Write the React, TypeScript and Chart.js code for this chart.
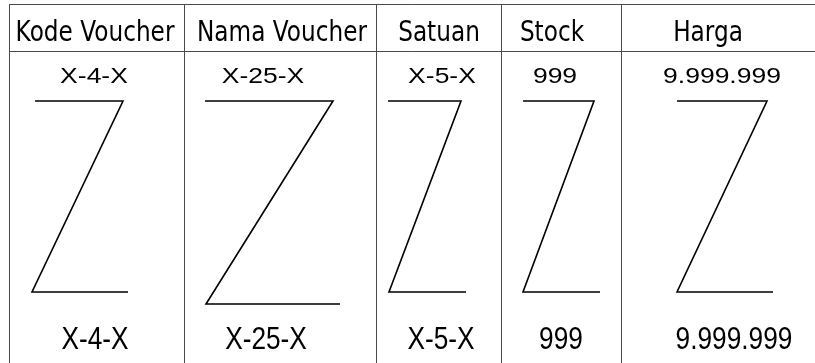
import React, { useEffect, useRef } from "react";
import { Chart, registerables } from "chart.js";

Chart.register(...registerables);

// ---- data ----
const columnLabels = ["Kode Voucher", "Nama Voucher", "Satuan", "Stock", "Harga"];
const firstRowValues = ["X-4-X", "X-25-X", "X-5-X", "999", "9.999.999"];
const lastRowValues = ["X-4-X", "X-25-X", "X-5-X", "999", "9.999.999"];

// table frame (in chart units)
const columnEdges = [9.5, 184.5, 376.5, 501.5, 621.5];
const tableTop = 4.5;
const headerBottom = 51.5;
const tableRight = 815;
const tableBottom = 363;

// Z placeholder marks per column
const zTopY = [101, 101, 101, 101, 101];
const zBottomY = [292, 304, 292, 292, 292];
const zTopLeftX = [35, 205, 388, 523, 677];
const zTopRightX = [123, 333, 461, 594, 767];
const zBottomLeftX = [32, 206, 389, 523, 677];
const zBottomRightX = [128, 340, 466, 600, 773];

// text anchors (centers, chart units)
const headerCenters = [95, 282, 439, 552, 708];
const firstRowCenters = [94, 263, 442, 555, 722];
const lastRowCenters = [95, 266, 441, 561, 734];
const headerBaseline = 41;
const firstRowBaseline = 83;
const lastRowBaseline = 349;

const LINE = "#4a4a4a";

function drawScaled(
  ctx: CanvasRenderingContext2D,
  text: string,
  x: number,
  y: number,
  font: string,
  sx: number,
  sy: number
) {
  ctx.save();
  ctx.translate(x, y);
  ctx.scale(sx, sy);
  ctx.font = font;
  ctx.fillStyle = "#000";
  ctx.textAlign = "center";
  ctx.textBaseline = "alphabetic";
  ctx.fillText(text, 0, 0);
  ctx.restore();
}

const textPlugin = {
  id: "tableText",
  afterDatasetsDraw(chart: any) {
    const ctx = chart.ctx as CanvasRenderingContext2D;
    const xs = chart.scales.x;
    const ys = chart.scales.y;
    columnLabels.forEach((t, i) => {
      drawScaled(ctx, t, xs.getPixelForValue(headerCenters[i]), ys.getPixelForValue(headerBaseline),
        '29px "DejaVu Sans"', 0.8, 1.0);
    });
    firstRowValues.forEach((t, i) => {
      drawScaled(ctx, t, xs.getPixelForValue(firstRowCenters[i]), ys.getPixelForValue(firstRowBaseline),
        '26px "Liberation Sans"', 1.02, 0.84);
    });
    lastRowValues.forEach((t, i) => {
      drawScaled(ctx, t, xs.getPixelForValue(lastRowCenters[i]), ys.getPixelForValue(lastRowBaseline),
        '26px "Liberation Sans"', 1.01, 1.18);
    });
  },
};

export default function App() {
  const ref = useRef<HTMLCanvasElement | null>(null);

  useEffect(() => {
    if (!ref.current) return;
    const frame: any[] = [];
    frame.push({
      data: [{ x: columnEdges[0], y: tableTop }, { x: tableRight, y: tableTop }],
    });
    frame.push({
      data: [{ x: columnEdges[0], y: headerBottom }, { x: tableRight, y: headerBottom }],
    });
    columnEdges.forEach((e) => {
      frame.push({ data: [{ x: e, y: tableTop }, { x: e, y: tableBottom }] });
    });
    const frameSets = frame.map((d) => ({
      ...d,
      showLine: true,
      borderColor: LINE,
      borderWidth: 1,
      pointRadius: 0,
      tension: 0,
      clip: false,
    }));
    const zSets = columnLabels.map((_, i) => ({
      data: [
        { x: zTopLeftX[i], y: zTopY[i] },
        { x: zTopRightX[i], y: zTopY[i] },
        { x: zBottomLeftX[i], y: zBottomY[i] },
        { x: zBottomRightX[i], y: zBottomY[i] },
      ],
      showLine: true,
      borderColor: "#000",
      borderWidth: 1.6,
      pointRadius: 0,
      tension: 0,
      clip: false,
    }));

    const chart = new Chart(ref.current, {
      type: "scatter",
      data: { datasets: [...frameSets, ...zSets] as any },
      options: {
        animation: false,
        responsive: false,
        devicePixelRatio: 1,
        layout: { padding: 0 },
        plugins: { legend: { display: false }, tooltip: { enabled: false } },
        scales: {
          x: { type: "linear", min: 0, max: 815, display: false },
          y: { type: "linear", min: 0, max: 363, reverse: true, display: false },
        },
      },
      plugins: [textPlugin],
    });
    return () => chart.destroy();
  }, []);

  return (
    <div style={{ position: "absolute", left: 0, top: 0, width: 815, height: 363, background: "#fff" }}>
      <canvas ref={ref} width={815} height={363} />
    </div>
  );
}
